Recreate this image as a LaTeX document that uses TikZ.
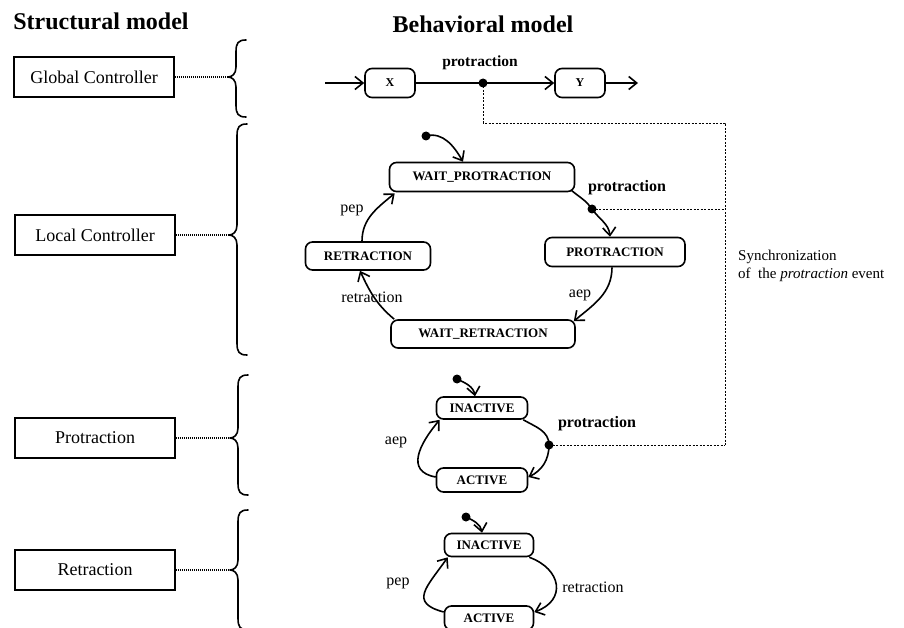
\documentclass[tikz,border=0pt]{standalone}
\usepackage{fontspec}
\setmainfont{Liberation Serif}
\usetikzlibrary{arrows.meta}
\newcommand{\mybrace}[4]{% #1 tip x, #2 top y, #3 tip y, #4 bottom y (pixel, positive down)
  \draw[bracestyle] (#1+18,-#2) .. controls (#1+10,-#2) and (#1+8,-#2-3) .. (#1+8,-#2-12)
    -- (#1+8,-#3+10) .. controls (#1+8,-#3+3) and (#1+4,-#3) .. (#1,-#3)
    .. controls (#1+4,-#3) and (#1+8,-#3-3) .. (#1+8,-#3-10)
    -- (#1+8,-#4+12) .. controls (#1+8,-#4+3) and (#1+10,-#4) .. (#1+18,-#4);}
\begin{document}
\begin{tikzpicture}[x=1pt,y=1pt,
  structbox/.style={draw, line width=1.5pt, minimum width=160pt, minimum height=40pt, inner sep=0pt, font=\fontsize{18}{20}\selectfont},
  st/.style={draw, rounded corners=7pt, line width=1.6pt, inner sep=0pt, font=\bfseries\fontsize{13}{15}\selectfont},
  conn/.style={line width=1.6pt},
  arr/.style={conn, -{Straight Barb[length=8pt,width=13pt]}},
  dotn/.style={circle, fill=black, inner sep=0pt, minimum size=9pt},
  lbl/.style={font=\fontsize{16}{18}\selectfont, inner sep=0pt},
  blbl/.style={font=\bfseries\fontsize{16}{18}\selectfont, inner sep=0pt},
  sync/.style={line width=0.8pt, dash pattern=on 2pt off 1.5pt},
  link/.style={line width=1.2pt, dash pattern=on 1pt off 1pt},
  bracestyle/.style={line width=1.6pt, line cap=round, line join=round}
]
\useasboundingbox (0,0) rectangle (904,-628);
\clip (0,0) rectangle (904,-628);

% titles
\node[font=\bfseries\fontsize{24}{28}\selectfont, inner sep=0pt] (t1) at (101,-21) {Structural model};
\node[font=\bfseries\fontsize{24}{28}\selectfont, inner sep=0pt] (t2) at (483,-24) {Behavioral model};

% structural boxes
\node[structbox] (gc) at (94,-77) {Global Controller};
\node[structbox] (lc) at (95,-235) {Local Controller};
\node[structbox] (pc) at (95,-438) {Protraction};
\node[structbox] (rc) at (95,-570) {Retraction};

% braces
\mybrace{228}{40}{77}{117}
\mybrace{229}{124}{235}{355}
\mybrace{230}{375}{438}{495}
\mybrace{230}{510}{570}{630}
\coordinate (b1) at (228,-77);
\coordinate (b2) at (229,-235);
\coordinate (b3) at (230,-438);
\coordinate (b4) at (230,-570);
\draw[link] (gc.east) -- (b1);
\draw[link] (lc.east) -- (b2);
\draw[link] (pc.east) -- (b3);
\draw[link] (rc.east) -- (b4);

% global controller behaviour
\coordinate (xin) at (325,-83);
\node[st, minimum width=50pt, minimum height=29pt, font=\bfseries\fontsize{12}{14}\selectfont] (X) at (390,-83) {X};
\node[st, minimum width=50pt, minimum height=29pt, font=\bfseries\fontsize{12}{14}\selectfont] (Y) at (580,-83) {Y};
\coordinate (yout) at (638,-83);
\draw[arr] (xin) -- (X);
\draw[arr] (X) -- (Y);
\draw[arr] (Y) -- (yout);
\node[dotn] (d0) at (483,-83) {};
\node[font=\bfseries\fontsize{15.5}{18}\selectfont, inner sep=0pt] (lp0) at (480,-63) {protraction};

% local controller
\node[st, minimum width=185pt, minimum height=29pt] (wp) at (482,-177) {WAIT\_PROTRACTION};
\node[st, minimum width=140pt, minimum height=29pt] (pr) at (615,-252) {PROTRACTION};
\node[st, minimum width=125pt, minimum height=28pt] (re) at (368,-256) {RETRACTION};
\node[st, minimum width=184pt, minimum height=28pt] (wr) at (483,-334) {WAIT\_RETRACTION};
\node[dotn] (i1) at (426,-136) {};
\node[dotn] (d1) at (592,-209) {};
\draw[arr] (i1.center) to[out=15,in=120] ([xshift=-19pt]wp.north);
\draw[arr] ([xshift=-4pt,yshift=2pt]wp.south east) to[out=-40,in=125] (d1.center) to[out=-55,in=95] ([xshift=-5pt]pr.north);
\draw[arr] ([xshift=-3pt]pr.south) to[out=-90,in=40] ([xshift=-2pt,yshift=-2pt]wr.north east);
\draw[arr] ([xshift=4pt]wr.north west) to[out=140,in=-65] ([xshift=-8pt]re.south);
\draw[arr] ([xshift=-6pt]re.north) to[out=90,in=-140] ([xshift=6pt,yshift=-1pt]wp.south west);
\node[blbl] (lp1) at (627,-188) {protraction};
\node[lbl] (lpep1) at (352,-210) {pep};
\node[lbl] (lret1) at (372,-297) {retraction};
\node[lbl] (laep1) at (580,-295) {aep};

% protraction machine
\node[st, minimum width=91pt, minimum height=22pt] (pi) at (482,-408) {INACTIVE};
\node[st, minimum width=91pt, minimum height=24pt] (pa) at (482,-480) {ACTIVE};
\node[dotn] (i2) at (457,-379) {};
\node[dotn] (d2) at (549,-445) {};
\draw[arr] (i2.center) to[out=-25,in=100] ([xshift=-7pt]pi.north);
\draw[arr] ([xshift=-5pt]pi.south east) to[out=-30,in=90] (d2.center) to[out=-90,in=25] ([yshift=3pt]pa.east);
\draw[arr] ([yshift=3pt]pa.west) to[out=170,in=-130,looseness=1.4] ([xshift=4pt]pi.south west);
\node[lbl] (laep2) at (396,-442) {aep};
\node[blbl] (lp2) at (597,-424) {protraction};

% retraction machine
\node[st, minimum width=89pt, minimum height=23pt] (ri) at (489,-545) {INACTIVE};
\node[st, minimum width=89pt, minimum height=24pt] (ra) at (489,-618) {ACTIVE};
\node[dotn] (i3) at (466,-517) {};
\draw[arr] (i3.center) to[out=-25,in=100] ([xshift=-7pt]ri.north);
\draw[arr] ([xshift=-5pt]ri.south east) to[out=-20,in=20,looseness=1.6] ([yshift=6pt]ra.east);
\draw[arr] ([yshift=6pt]ra.west) to[out=165,in=-125,looseness=1.7] ([xshift=4pt]ri.south west);
\node[lbl] (lpep3) at (398,-583) {pep};
\node[lbl] (lret3) at (593,-587) {retraction};

% synchronization
\coordinate (s1) at (483,-123);
\coordinate (s2) at (725,-123);
\coordinate (s3) at (725,-209);
\coordinate (s4) at (725,-445);
\draw[sync] (d0.center) -- (s1) -- (s2) -- (s4);
\draw[sync] (d1.center) -- (s3);
\draw[sync] (d2.center) -- (s4);
\node[font=\fontsize{15}{18}\selectfont, align=left, anchor=west, inner sep=0pt] (synct) at (738,-266) {Synchronization\\of\ \ the \textit{protraction} event};
\end{tikzpicture}
\end{document}
